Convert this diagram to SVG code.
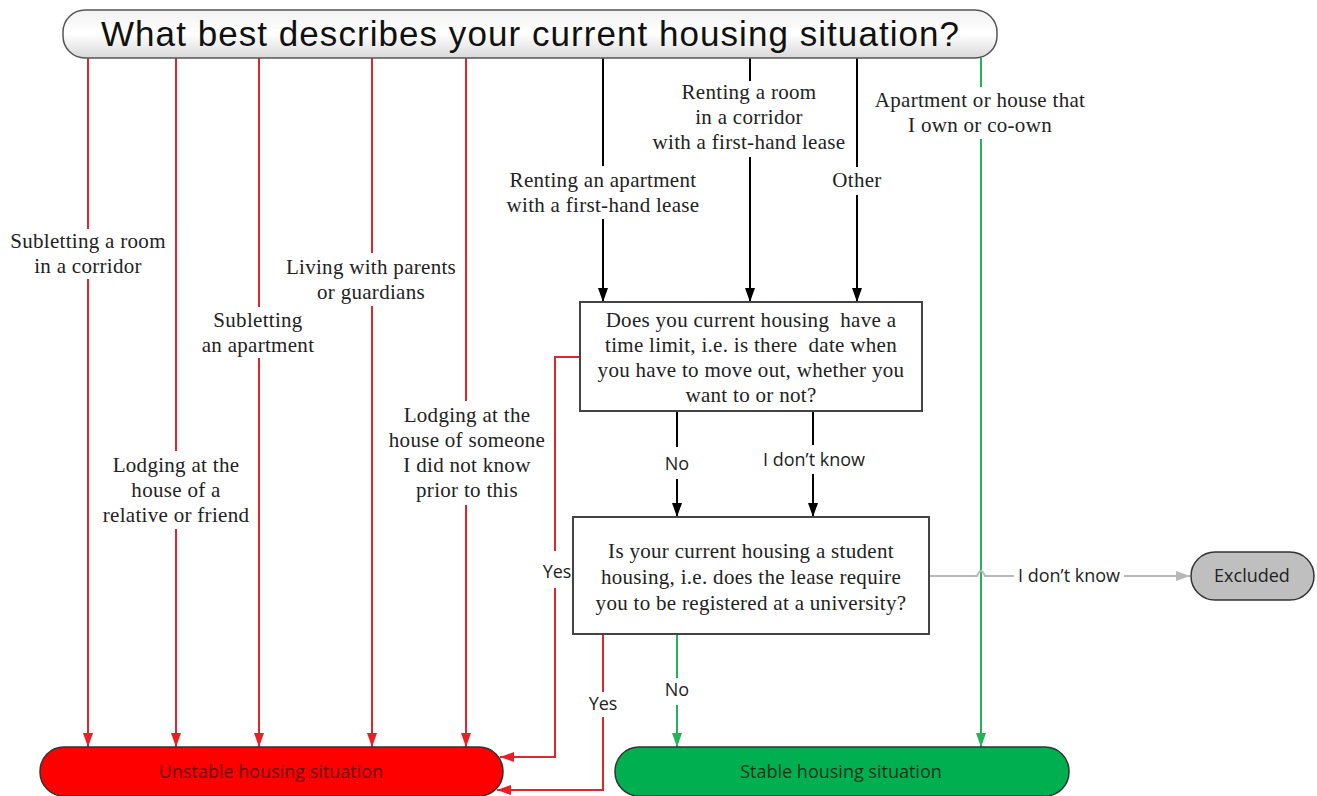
<svg xmlns="http://www.w3.org/2000/svg" width="1317" height="796" viewBox="0 0 1317 796">
<style>
.serif{font-family:"Liberation Serif","Times New Roman",serif;font-size:21px;fill:#222;text-anchor:middle;letter-spacing:0.3px}
.pre{white-space:pre}
.sans{font-family:"Open Sans","Liberation Sans",sans-serif;font-size:18px;fill:#222;text-anchor:middle}
.red{stroke:#e0262c;stroke-width:2;fill:none}
.blk{stroke:#000;stroke-width:2;fill:none}
.grn{stroke:#22b45c;stroke-width:2;fill:none}
.gry{stroke:#b8b8b8;stroke-width:2;fill:none}
.box{fill:#fff;stroke:#444;stroke-width:2}
</style>
<defs>
<linearGradient id="tg" x1="0" y1="0" x2="0" y2="1">
<stop offset="0" stop-color="#f2f2f2"/>
<stop offset="0.5" stop-color="#ffffff"/>
<stop offset="1" stop-color="#d9d9d9"/>
</linearGradient>
<marker id="mr" viewBox="0 0 14 10" refX="14" refY="5" markerWidth="14" markerHeight="10" markerUnits="userSpaceOnUse" orient="auto"><path d="M0,0 L14,5 L0,10 z" fill="#ee1c24"/></marker>
<marker id="mb" viewBox="0 0 14 10" refX="14" refY="5" markerWidth="14" markerHeight="10" markerUnits="userSpaceOnUse" orient="auto"><path d="M0,0 L14,5 L0,10 z" fill="#000"/></marker>
<marker id="mg" viewBox="0 0 14 10" refX="14" refY="5" markerWidth="14" markerHeight="10" markerUnits="userSpaceOnUse" orient="auto"><path d="M0,0 L14,5 L0,10 z" fill="#1fb55a"/></marker>
<marker id="my" viewBox="0 0 14 10" refX="14" refY="5" markerWidth="14" markerHeight="10" markerUnits="userSpaceOnUse" orient="auto"><path d="M0,0 L14,5 L0,10 z" fill="#b8b8b8"/></marker>
</defs>
<rect width="1317" height="796" fill="#fff"/>

<g id="connectors">
<path class="red" d="M88,58 V229"/><path class="red" d="M88,279 V747" marker-end="url(#mr)"/>
<path class="red" d="M176,58 V451"/><path class="red" d="M176,529 V747" marker-end="url(#mr)"/>
<path class="red" d="M259,58 V307"/><path class="red" d="M259,358 V747" marker-end="url(#mr)"/>
<path class="red" d="M372,58 V253"/><path class="red" d="M372,306 V747" marker-end="url(#mr)"/>
<path class="red" d="M466,58 V401"/><path class="red" d="M466,505 V747" marker-end="url(#mr)"/>
<path class="blk" d="M603,58 V166"/><path class="blk" d="M603,219 V302" marker-end="url(#mb)"/>
<path class="blk" d="M750,58 V81"/><path class="blk" d="M750,157 V302" marker-end="url(#mb)"/>
<path class="blk" d="M857,58 V167"/><path class="blk" d="M857,195 V302" marker-end="url(#mb)"/>
<path class="grn" d="M981,58 V87"/><path class="grn" d="M981,139 V747" marker-end="url(#mg)"/>
<path class="blk" d="M677,411 V447"/><path class="blk" d="M677,479 V517" marker-end="url(#mb)"/>
<path class="blk" d="M821,411 H813 V445"/><path class="blk" d="M813,474 V517" marker-end="url(#mb)"/>
<path class="red" d="M580,357 H555 V551"/><path class="red" d="M555,588 V757 H500" marker-end="url(#mr)"/>
<path class="red" d="M603,634 V692"/><path class="red" d="M603,717 V790 H497" marker-end="url(#mr)"/>
<path class="grn" d="M677,634 V678"/><path class="grn" d="M677,705 V747" marker-end="url(#mg)"/>
<path class="gry" d="M929,576 H977 Q981,566 985,576 H1014"/><path class="gry" d="M1124,576 H1190" marker-end="url(#my)"/>

<text class="serif" x="88" y="248">Subletting a room</text>
<text class="serif" x="88" y="273">in a corridor</text>
<text class="serif" x="176" y="472">Lodging at the</text>
<text class="serif" x="176" y="497">house of a</text>
<text class="serif" x="176" y="522">relative or friend</text>
<text class="serif" x="258" y="327">Subletting</text>
<text class="serif" x="258" y="352">an apartment</text>
<text class="serif" x="371" y="274">Living with parents</text>
<text class="serif" x="371" y="299">or guardians</text>
<text class="serif" x="467" y="422">Lodging at the</text>
<text class="serif" x="467" y="447">house of someone</text>
<text class="serif" x="467" y="472">I did not know</text>
<text class="serif" x="467" y="497">prior to this</text>
<text class="serif" x="603" y="187">Renting an apartment</text>
<text class="serif" x="603" y="212">with a first-hand lease</text>
<text class="serif" x="749" y="99">Renting a room</text>
<text class="serif" x="749" y="124">in a corridor</text>
<text class="serif" x="749" y="149">with a first-hand lease</text>
<text class="serif" x="857" y="187">Other</text>
<text class="serif" x="980" y="107">Apartment or house that</text>
<text class="serif" x="980" y="132">I own or co-own</text>
<text class="sans" x="677" y="470">No</text>
<text class="sans" x="814" y="466">I don’t know</text>
<text class="sans" x="557" y="578">Yes</text>
<text class="sans" x="603" y="710">Yes</text>
<text class="sans" x="677" y="696">No</text>
<text class="sans" x="1069" y="582">I don’t know</text>
</g>

<g id="title">
<rect x="63" y="10" width="934" height="48" rx="22" fill="url(#tg)" stroke="#555" stroke-width="1.5"/>
<text x="530" y="46" font-family="Liberation Sans, Arial, sans-serif" font-size="35" fill="#111" text-anchor="middle" textLength="858" lengthAdjust="spacing">What best describes your current housing situation?</text>
</g>

<g id="q1">
<rect class="box" x="580" y="302" width="342" height="109"/>
<text class="serif pre" x="751" y="327">Does you current housing  have a</text>
<text class="serif pre" x="751" y="352">time limit, i.e. is there  date when</text>
<text class="serif" x="751" y="377">you have to move out, whether you</text>
<text class="serif" x="751" y="402">want to or not?</text>
</g>

<g id="q2">
<rect class="box" x="573" y="517" width="356" height="117"/>
<text class="serif" x="751" y="558">Is your current housing a student</text>
<text class="serif" x="751" y="584">housing, i.e. does the lease require</text>
<text class="serif" x="751" y="610">you to be registered at a university?</text>
</g>

<g id="excluded">
<rect x="1191" y="552" width="123" height="48" rx="24" fill="#bfbfbf" stroke="#333" stroke-width="1.5"/>
<text class="sans" x="1252" y="582">Excluded</text>
</g>

<g id="unstable">
<rect x="40" y="747" width="463" height="49" rx="24" fill="#ff0000" stroke="#333" stroke-width="1.5"/>
<text class="sans" x="271" y="778" style="fill:#6b0000">Unstable housing situation</text>
</g>

<g id="stable">
<rect x="615" y="747" width="454" height="49" rx="24" fill="#00b050" stroke="#333" stroke-width="1.5"/>
<text class="sans" x="841" y="778" style="fill:#0b3318">Stable housing situation</text>
</g>
</svg>
